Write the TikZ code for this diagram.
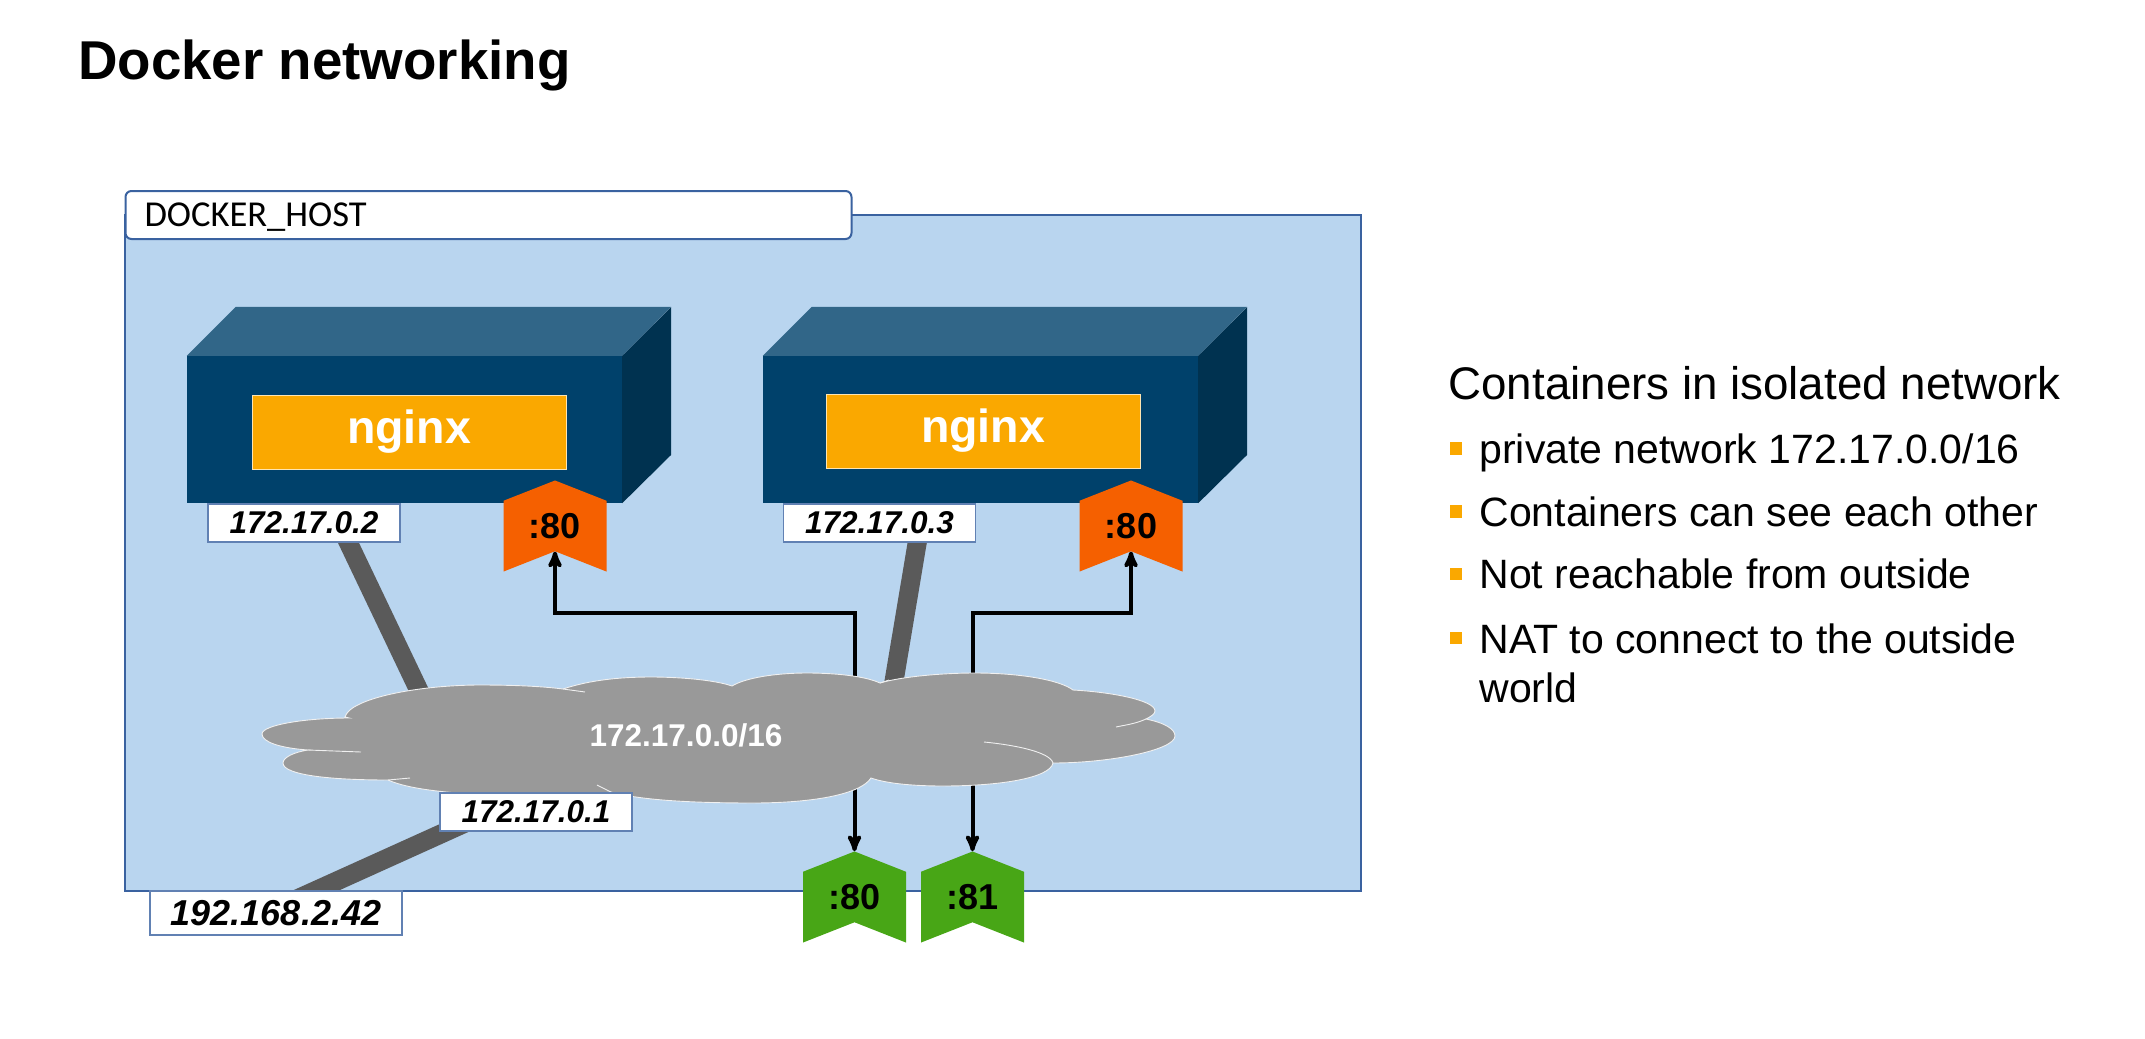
\documentclass[tikz,border=0pt]{standalone}
\usepackage{fontspec}
\setmainfont{Liberation Sans}
\newfontfamily\calibrifont{Carlito}
\usetikzlibrary{positioning, arrows, shapes.symbols}
\definecolor{hostblue}{HTML}{B9D5EF}
\definecolor{hostline}{HTML}{3A62A0}
\definecolor{boxfront}{HTML}{00416B}
\definecolor{boxtop}{HTML}{316688}
\definecolor{boxside}{HTML}{003250}
\definecolor{appyellow}{HTML}{FAA800}
\definecolor{portorange}{HTML}{F56000}
\definecolor{portgreen}{HTML}{48A616}
\definecolor{cloudgray}{HTML}{999999}
\definecolor{linkgray}{HTML}{5A5A5A}
\pgfdeclarelayer{base}
\pgfdeclarelayer{wires}
\pgfsetlayers{base,wires,main}
\tikzset{>=stealth',node distance=3cm,
  host/.style={draw=hostline, line width=2pt, fill=hostblue, minimum width=1236pt, minimum height=676pt, inner sep=0pt},
  hosttab/.style={draw=hostline, line width=2pt, fill=white, rounded corners=6pt, minimum height=48pt, text width=688pt, text height=22pt, text depth=0pt, inner xsep=19pt, inner ysep=0pt, align=left, font=\calibrifont\fontsize{36.5}{40}\selectfont},
  box/.style={fill=boxfront, minimum width=435pt, minimum height=147pt, inner sep=0pt},
  app/.style={draw=white!70!appyellow, line width=1pt, fill=appyellow, text=white, minimum width=314pt, minimum height=74pt, inner sep=0pt, font=\bfseries\fontsize{46.5}{50}\selectfont},
  iplabel/.style={draw=hostline!80, line width=1.2pt, fill=white, minimum width=192pt, minimum height=38pt, inner sep=0pt, font=\bfseries\itshape\fontsize{31.5}{36}\selectfont},
  port/.style={shape=signal, signal from=south, signal to=north, signal pointer angle=137, minimum width=103pt, minimum height=71pt, inner sep=0pt, font=\bfseries\fontsize{36}{38}\selectfont},
  link/.style={draw=linkgray, line width=19pt},
  wire/.style={draw=black, line width=4pt, ->},
  cloudline/.style={draw=white!85!cloudgray, line width=0.9pt},
  item/.style={anchor=base west, font=\fontsize{41}{49}\selectfont, align=left},
  bullet/.style={fill=appyellow, minimum size=12.5pt, inner sep=0pt}
}
\begin{document}
\begin{tikzpicture}[x=1pt,y=-1pt]
\useasboundingbox (0,0) rectangle (2145,1039);
\node[anchor=base west, inner sep=0pt, font=\bfseries\fontsize{54.7}{60}\selectfont] (title) at (78,79) {Docker networking};

\begin{pgfonlayer}{base}
\node[host] (host) at (743,553) {};
\node[hosttab] (tab) at (488.5,215) {DOCKER\_HOST};
\end{pgfonlayer}

\node[box] (boxA) at (404.5,429.5) {};
\node[box, right of=boxA, node distance=576pt] (boxB) {};
\fill[boxtop] (boxA.north west) -- ++(49,-49) -- ++(435,0) -- (boxA.north east) -- cycle;
\fill[boxside] (boxA.north east) -- ++(49,-49) -- ++(0,148) -- (boxA.south east) -- cycle;
\fill[boxtop] (boxB.north west) -- ++(49,-49) -- ++(435,0) -- (boxB.north east) -- cycle;
\fill[boxside] (boxB.north east) -- ++(49,-49) -- ++(0,148) -- (boxB.south east) -- cycle;
\node[app] (appA) at (409,432) {nginx};
\node[app] (appB) at (983,431) {nginx};

\draw[cloudline, fill=cloudgray] (345,717)
.. controls (350,698) and (420,685) .. (480,685) .. controls (510,685) and (540,686) .. (563,689)
.. controls (590,680) and (620,677) .. (651,677) .. controls (680,677) and (715,680) .. (732,686)
.. controls (745,678) and (775,673) .. (807,673) .. controls (835,673) and (865,676) .. (880,683)
.. controls (900,677) and (940,673) .. (975,673) .. controls (1020,673) and (1060,680) .. (1073,690)
.. controls (1110,692) and (1155,700) .. (1155,711) .. controls (1155,714) and (1150,717) .. (1146,719)
.. controls (1165,723) and (1175,729) .. (1175,736) .. controls (1175,750) and (1110,763) .. (1053,763)
.. controls (1050,778) and (1000,786) .. (943,786) .. controls (910,786) and (885,783) .. (871,778)
.. controls (860,795) and (810,803) .. (753,803) .. controls (690,803) and (640,800) .. (611,792)
.. controls (585,795) and (545,795) .. (515,795) .. controls (460,795) and (410,790) .. (388,780)
.. controls (330,780) and (283,775) .. (283,763) .. controls (283,757) and (295,752) .. (308,750)
.. controls (280,748) and (262,742) .. (262,734) .. controls (262,725) and (305,718) .. (349,718) -- cycle;
\draw[cloudline] (563,689) -- (585,692) (880,683) -- (889,680) (611,792) -- (597,785) (388,780) -- (410,778);
\draw[cloudline] (308,750) -- (361,752);
\draw[cloudline] (1146,719) .. controls (1135,724) and (1125,725) .. (1116,727);
\draw[cloudline] (1053,763) .. controls (1050,752) and (1015,745) .. (984,742);
\node[text=white, font=\bfseries\fontsize{31.5}{36}\selectfont, inner sep=0pt] (cloud) at (686,735) {172.17.0.0/16};

\node[iplabel] (ipA) at (304,523) {172.17.0.2};
\node[iplabel, right of=ipA, node distance=575.5pt] (ipB) {172.17.0.3};
\node[iplabel] (ipC) at (536,812) {172.17.0.1};
\node[iplabel, minimum width=252pt, minimum height=44pt, font=\bfseries\itshape\fontsize{36}{40}\selectfont] (ipD) at (276,913) {192.168.2.42};

\node[port, fill=portorange] (portA) at (555,526) {:80};
\node[port, fill=portorange, right of=portA, node distance=576pt] (portB) {:80};
\node[port, fill=portgreen] (pubA) at (854.5,897) {:80};
\node[port, fill=portgreen, right of=pubA, node distance=118pt] (pubB) {:81};

\coordinate (natA) at ([xshift=168.5pt]cloud.center);
\coordinate (natB) at ([xshift=286.5pt]cloud.center);

\begin{pgfonlayer}{wires}
\draw[link] ([xshift=35pt]ipA.center) -- ([xshift=-253pt,yshift=15pt]cloud.center);
\draw[link] ([xshift=41pt]ipB.center) -- ([xshift=199pt]cloud.center);
\draw[link] ([xshift=-10pt]ipD.center) -- ([yshift=21pt]ipC.center);
\draw[wire] (natA) |- ([yshift=-62pt]portA.south) -- (portA.south);
\draw[wire] (natB) |- ([yshift=-62pt]portB.south) -- (portB.south);
\draw[wire] (natA) -- (pubA.north);
\draw[wire] (natB) -- (pubB.north);
\end{pgfonlayer}

\node[item, font=\fontsize{45.7}{50}\selectfont] (head) at (1445,399) {Containers in isolated network};
\node[bullet] (b1) at (1456,448.5) {};
\node[item] (t1) at (1476,463) {private network 172.17.0.0/16};
\node[bullet] (b2) at (1456,511.5) {};
\node[item] (t2) at (1476,526) {Containers can see each other};
\node[bullet] (b3) at (1456,574) {};
\node[item] (t3) at (1476,588) {Not reachable from outside};
\node[bullet] (b4) at (1456,638) {};
\node[item] (t4) at (1476,702) {NAT to connect to the outside\\world};
\end{tikzpicture}
\end{document}
